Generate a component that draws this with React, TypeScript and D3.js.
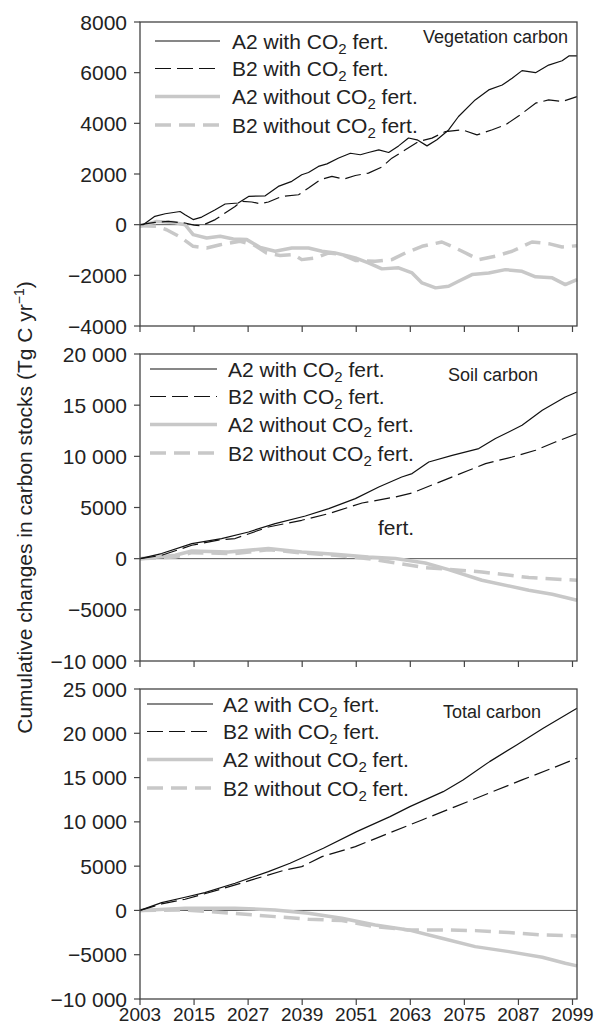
import React from "react";
import * as d3 from "d3";

// ---- Data (Tg C, cumulative since 2003) ----
const yearTicks = [2003, 2015, 2027, 2039, 2051, 2063, 2075, 2087, 2099];

const vegTicks = [-4000, -2000, 0, 2000, 4000, 6000, 8000];
const soilTicks = [-10000, -5000, 0, 5000, 10000, 15000, 20000];
const totalTicks = [-10000, -5000, 0, 5000, 10000, 15000, 20000, 25000];

const legendLabels = ["A2 with", "B2 with", "A2 without", "B2 without"];

const vegA2With: [number, number][] = [
  [2003, 0], [2003.7, 0], [2006.3, 330], [2008.6, 430], [2011.9, 520], [2013, 390], [2014.8, 200],
  [2016.7, 300], [2019.7, 590], [2021.9, 815], [2024.8, 855], [2027.1, 1115], [2030.8, 1140],
  [2033.7, 1510], [2036.7, 1710], [2038.9, 1970], [2040.4, 2060], [2042.6, 2300], [2044.5, 2400],
  [2047.1, 2630], [2049.7, 2820], [2051.9, 2760], [2053.7, 2850], [2056, 2955], [2058.2, 2850],
  [2060.4, 3110], [2062.6, 3420], [2064.5, 3350], [2066.7, 3110], [2068.9, 3350], [2071.5, 3740],
  [2073.7, 4270], [2077.4, 4925], [2080.4, 5320], [2083.4, 5515], [2085.6, 5780], [2087.8, 6080],
  [2090.8, 6000], [2093.7, 6300], [2096.7, 6470], [2098.2, 6660], [2100, 6660],
];
const vegB2With: [number, number][] = [
  [2003, 0], [2006.3, 90], [2009.3, 130], [2013, 65], [2015, -20], [2016.7, -40], [2019.7, 200],
  [2024.1, 720], [2025.6, 920], [2027.8, 895], [2029.7, 825], [2031.5, 895], [2034.5, 1115],
  [2038.2, 1180], [2040.4, 1445], [2043, 1775], [2045.6, 1905], [2048.2, 1800], [2050.8, 1940],
  [2053.7, 2035], [2056.7, 2275], [2058.9, 2625], [2061.9, 2955], [2064.8, 3280], [2067.8, 3415],
  [2070.8, 3675], [2074.5, 3745], [2077.8, 3545], [2081.2, 3745], [2084.1, 3940], [2087.1, 4295],
  [2090.8, 4795], [2093.7, 4925], [2096.7, 4860], [2100, 5055],
];
const vegA2Without: [number, number][] = [
  [2003, -70], [2006.7, 130], [2010.4, 90], [2013, 0], [2014.8, -395], [2017.8, -525], [2020.8, -460],
  [2023.7, -565], [2026.7, -590], [2029.7, -900], [2033, -1050], [2036.7, -920], [2040.4, -920],
  [2043.4, -1050], [2046.3, -1115], [2049.3, -1245], [2050.8, -1310], [2053.7, -1510], [2056.7, -1745],
  [2060.4, -1705], [2063.4, -1905], [2065.6, -2300], [2068.6, -2495], [2071.5, -2430], [2073.7, -2235],
  [2076.7, -1970], [2080.4, -1905], [2084.1, -1775], [2087.8, -1840], [2090.8, -2060], [2094.5, -2100],
  [2097.4, -2365], [2100, -2170],
];
const vegB2Without: [number, number][] = [
  [2003, -40], [2006.7, -65], [2008.9, -200], [2011.9, -485], [2014.8, -855], [2017.8, -920],
  [2020.8, -790], [2025.2, -655], [2028.2, -790], [2031.1, -1115], [2034.1, -1220], [2037.1, -1180],
  [2038.9, -1380], [2041.9, -1315], [2044.9, -1115], [2047.8, -1180], [2050.8, -1410], [2055.2, -1445],
  [2058.9, -1380], [2061.9, -1115], [2065.6, -855], [2070, -685], [2073, -920], [2076, -1180],
  [2078.2, -1380], [2081.9, -1245], [2085.6, -1050], [2090, -685], [2093.7, -750], [2096.7, -880],
  [2100, -830],
];

const soilA2With: [number, number][] = [
  [2003, 0], [2007.8, 500], [2014.5, 1475], [2021.1, 1965], [2027.1, 2610], [2033, 3430],
  [2039.7, 4170], [2044.9, 4895], [2050.8, 5870], [2056, 7005], [2061.1, 7980], [2063.4, 8315],
  [2067.1, 9450], [2072.3, 10100], [2078.2, 10755], [2081.9, 11735], [2087.8, 13035], [2092.3, 14500],
  [2097.4, 15800], [2100, 16290],
];
const soilB2With: [number, number][] = [
  [2003, 0], [2007.8, 325], [2014.5, 1310], [2021.1, 1865], [2024.1, 1965], [2031.5, 3095],
  [2038.9, 3750], [2044.9, 4405], [2052.3, 5440], [2059.7, 6030], [2063.4, 6420], [2068.6, 7335],
  [2076, 8635], [2079.7, 9290], [2085.6, 9935], [2090.8, 10590], [2095.2, 11400], [2100, 12220],
];
const soilA2Without: [number, number][] = [
  [2003, 0], [2010.8, 330], [2014.5, 750], [2022.6, 655], [2031.5, 985], [2038.9, 655],
  [2046.3, 430], [2053.7, 165], [2059.7, 10], [2066.3, -420], [2071.5, -1065], [2078.9, -2110],
  [2089.3, -3085], [2094.5, -3480], [2100, -4065],
];
const soilB2Without: [number, number][] = [
  [2003, 0], [2010.8, 165], [2014.5, 590], [2024.1, 500], [2031.5, 880], [2038.9, 560],
  [2046.3, 330], [2053.7, 0], [2059.7, -420], [2066.3, -870], [2071.5, -1035], [2078.9, -1300],
  [2089.3, -1845], [2100, -2110],
];

const totalA2With: [number, number][] = [
  [2003, 0], [2007.8, 880], [2013, 1490], [2017.4, 2010], [2024.1, 3070], [2031.5, 4380],
  [2036.3, 5330], [2043.7, 7020], [2051.1, 8900], [2058.5, 10590], [2062.9, 11720], [2070.3, 13410],
  [2074.7, 14730], [2080.6, 16800], [2086.6, 18680], [2092.5, 20570], [2100, 22830],
];
const totalB2With: [number, number][] = [
  [2003, 0], [2007.8, 735], [2013, 1265], [2020.4, 2315], [2027.8, 3445], [2035.2, 4570],
  [2038.9, 4945], [2043.4, 6075], [2050.8, 7205], [2058.2, 8715], [2065.6, 10215], [2073, 11720],
  [2080.4, 13230], [2087.8, 14735], [2094.5, 16055], [2100, 17185],
];
const totalA2Without: [number, number][] = [
  [2003, 0], [2013, 250], [2024.1, 250], [2033, 55], [2040.4, -315], [2047.8, -880],
  [2055.2, -1635], [2062.6, -2200], [2070, -3140], [2077.4, -4085], [2084.9, -4650],
  [2092.3, -5285], [2097.4, -5960], [2100, -6265],
];
const totalB2Without: [number, number][] = [
  [2003, 0], [2013, 55], [2024.1, -340], [2033, -700], [2040.4, -995], [2047.8, -1150],
  [2055.2, -1830], [2062.6, -2200], [2070, -2200], [2077.4, -2280], [2084.9, -2505],
  [2092.3, -2765], [2100, -2880],
];

// ---- Styling ----
const FONT = "'Liberation Sans', Arial, Helvetica, sans-serif";
const TEXT = "#222";
const FRAME = "#444";
const GREY = "#c8c8c8";

const seriesStyles = [
  { stroke: "#111", width: 1.2, dash: undefined as string | undefined },
  { stroke: "#111", width: 1.2, dash: "16 6" },
  { stroke: GREY, width: 3.5, dash: undefined as string | undefined },
  { stroke: GREY, width: 3.5, dash: "16 8" },
];

const X0 = 140;
const X1 = 577;
const xScale = d3.scaleLinear().domain([2003, 2100]).range([X0, X1]);

const fmt = (v: number) => {
  const a = Math.abs(v);
  const s = a >= 10000 ? d3.format(",")(a).replace(/,/g, " ") : String(a);
  return (v < 0 ? "\u2212" : "") + s;
};

type Panel = {
  top: number;
  height: number;
  domain: [number, number];
  ticks: number[];
  title: string;
  titleX: number;
  titleY: number;
  titleAnchor: "start" | "end";
  legendY: number;
  legendX0: number;
  legendX1: number;
  legendTextX: number;
  series: [number, number][][];
};

const panels: Panel[] = [
  {
    top: 22, height: 304, domain: [-4000, 8000], ticks: vegTicks,
    title: "Vegetation carbon", titleX: 568, titleY: 43, titleAnchor: "end",
    legendY: 41, legendX0: 155, legendX1: 220, legendTextX: 232,
    series: [vegA2With, vegB2With, vegA2Without, vegB2Without],
  },
  {
    top: 354, height: 307, domain: [-10000, 20000], ticks: soilTicks,
    title: "Soil carbon", titleX: 448, titleY: 381, titleAnchor: "start",
    legendY: 369, legendX0: 150, legendX1: 217, legendTextX: 228,
    series: [soilA2With, soilB2With, soilA2Without, soilB2Without],
  },
  {
    top: 689, height: 310, domain: [-10000, 25000], ticks: totalTicks,
    title: "Total carbon", titleX: 443, titleY: 718, titleAnchor: "start",
    legendY: 704, legendX0: 147, legendX1: 213, legendTextX: 223,
    series: [totalA2With, totalB2With, totalA2Without, totalB2Without],
  },
];

const legendOffsets = [0, 27.5, 55.5, 84];

function PanelView({ p, showYears }: { p: Panel; showYears: boolean }) {
  const y = d3.scaleLinear().domain(p.domain).range([p.top + p.height, p.top]);
  const line = d3
    .line<[number, number]>()
    .x((d) => xScale(d[0]))
    .y((d) => y(d[1]));
  const bottom = p.top + p.height;
  return (
    <g>
      {/* zero line */}
      <line x1={X0} x2={X1} y1={y(0)} y2={y(0)} stroke="#555" strokeWidth={1} />
      {/* series (grey first, black on top) */}
      {[2, 3, 0, 1].map((i) => (
        <path
          key={i}
          d={line(p.series[i]) || ""}
          fill="none"
          stroke={seriesStyles[i].stroke}
          strokeWidth={seriesStyles[i].width}
          strokeDasharray={seriesStyles[i].dash}
          strokeLinejoin="round"
        />
      ))}
      {/* frame */}
      <rect x={X0} y={p.top} width={X1 - X0} height={p.height} fill="none" stroke={FRAME} strokeWidth={1.3} />
      {/* y ticks */}
      {p.ticks.map((t) => (
        <g key={t}>
          <line x1={X0 - 6} x2={X0} y1={y(t)} y2={y(t)} stroke={FRAME} strokeWidth={1.2} />
          <text x={127} y={y(t)} dy="0.36em" textAnchor="end" fontSize={21} fill={TEXT} fontFamily={FONT}>
            {fmt(t)}
          </text>
        </g>
      ))}
      {/* x ticks */}
      {yearTicks.map((yr) => (
        <g key={yr}>
          <line x1={xScale(yr)} x2={xScale(yr)} y1={bottom} y2={bottom + 6} stroke={FRAME} strokeWidth={1.2} />
          {showYears && (
            <text x={xScale(yr)} y={bottom + 22} textAnchor="middle" fontSize={19} fill={TEXT} fontFamily={FONT}>
              {yr}
            </text>
          )}
        </g>
      ))}
      {/* panel title */}
      <text x={p.titleX} y={p.titleY} textAnchor={p.titleAnchor} fontSize={18} fill={TEXT} fontFamily={FONT}>
        {p.title}
      </text>
      {/* legend */}
      {legendLabels.map((lab, i) => {
        const ly = p.legendY + legendOffsets[i];
        return (
          <g key={lab}>
            <line
              x1={p.legendX0}
              x2={p.legendX1}
              y1={ly}
              y2={ly}
              stroke={seriesStyles[i].stroke}
              strokeWidth={seriesStyles[i].width}
              strokeDasharray={seriesStyles[i].dash}
            />
            <text x={p.legendTextX} y={ly + 7.5} fontSize={21} fill={TEXT} fontFamily={FONT}>
              {lab} CO
              <tspan fontSize={15} dy={5}>2</tspan>
              <tspan dy={-5}> fert.</tspan>
            </text>
          </g>
        );
      })}
    </g>
  );
}

export default function App() {
  return (
    <svg
      width={595}
      height={1028}
      viewBox="0 0 595 1028"
      style={{ position: "absolute", left: 0, top: 0, background: "#fff" }}
    >
      <rect x={0} y={0} width={595} height={1028} fill="#fff" />
      {panels.map((p, i) => (
        <PanelView key={p.title} p={p} showYears={i === panels.length - 1} />
      ))}
      {/* stray label inside the soil panel */}
      <text x={378} y={535} fontSize={21} fill={TEXT} fontFamily={FONT}>
        fert.
      </text>
      {/* shared y-axis title */}
      <text
        transform="translate(32,507.5) rotate(-90)"
        textAnchor="middle"
        fontSize={21}
        fill={TEXT}
        fontFamily={FONT}
      >
        Cumulative changes in carbon stocks (Tg C yr
        <tspan fontSize={14} dy={-8}>−1</tspan>
        <tspan dy={8}>)</tspan>
      </text>
    </svg>
  );
}
